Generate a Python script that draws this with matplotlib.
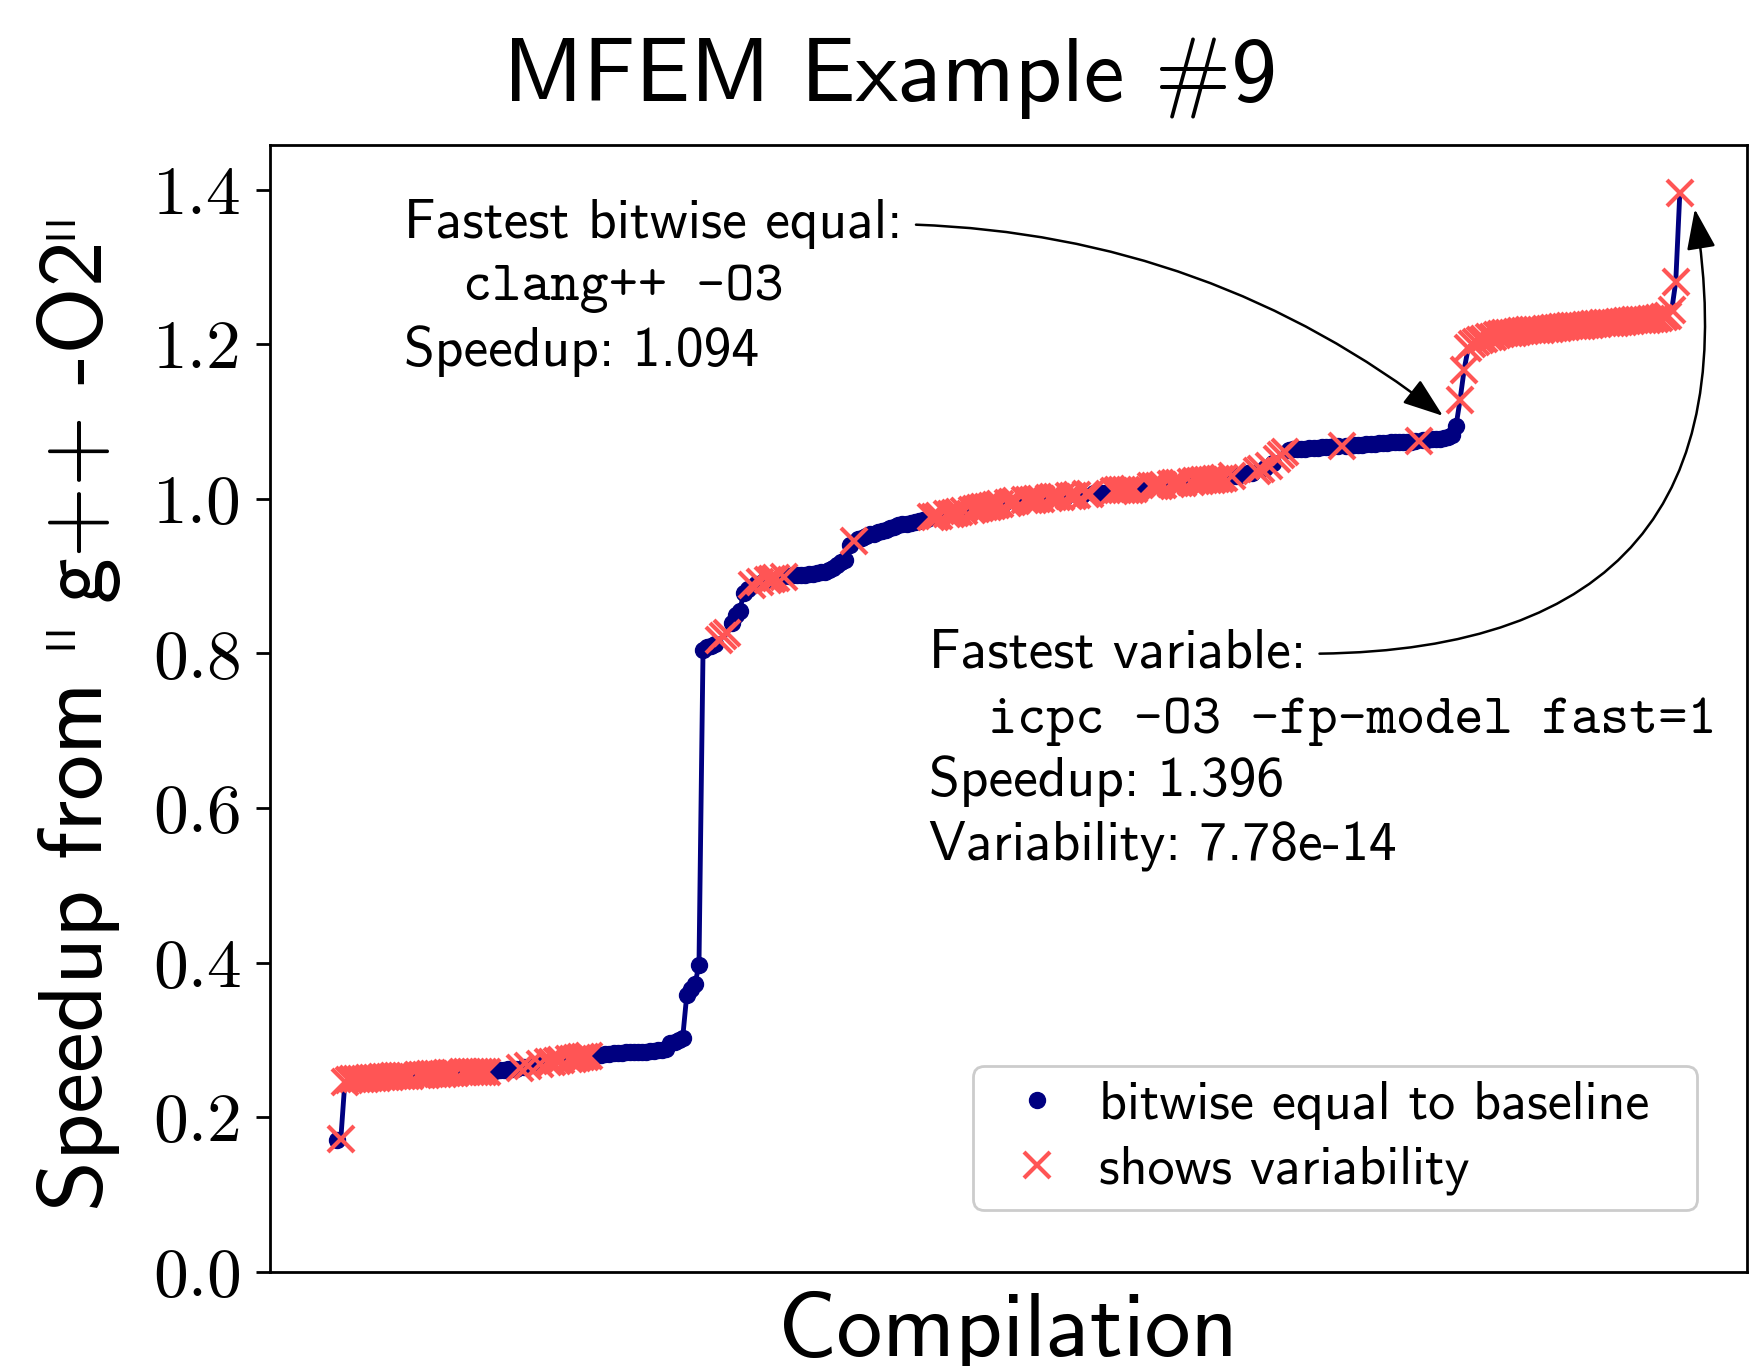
import numpy as np
import matplotlib
matplotlib.use("Agg")
import matplotlib.pyplot as plt
from matplotlib.textpath import TextPath
from matplotlib.font_manager import FontProperties
from matplotlib.transforms import IdentityTransform

plt.rcParams["font.family"] = "cmss10"
plt.rcParams["axes.unicode_minus"] = False

# Speedup of each compilation, sorted
speedup = [
    0.170, 0.172, 0.246, 0.248, 0.249, 0.249, 0.250, 0.250, 0.251, 0.251,
    0.251, 0.252, 0.252, 0.252, 0.253, 0.253, 0.253, 0.254, 0.254, 0.254,
    0.255, 0.255, 0.255, 0.256, 0.256, 0.256, 0.256, 0.257, 0.257, 0.257,
    0.257, 0.258, 0.258, 0.258, 0.258, 0.259, 0.259, 0.259, 0.260, 0.260,
    0.261, 0.261, 0.262, 0.262, 0.263, 0.264, 0.265, 0.266, 0.267, 0.268,
    0.269, 0.270, 0.271, 0.272, 0.273, 0.274, 0.275, 0.275, 0.276, 0.277,
    0.278, 0.278, 0.279, 0.280, 0.281, 0.281, 0.282, 0.282, 0.283, 0.283,
    0.283, 0.284, 0.284, 0.284, 0.285, 0.285, 0.285, 0.286, 0.286, 0.287,
    0.287, 0.288, 0.296, 0.298, 0.300, 0.303, 0.358, 0.366, 0.372, 0.397,
    0.805, 0.808, 0.810, 0.812, 0.818, 0.822, 0.826, 0.840, 0.850, 0.855,
    0.878, 0.884, 0.888, 0.890, 0.893, 0.894, 0.895, 0.896, 0.897, 0.898,
    0.899, 0.900, 0.901, 0.901, 0.902, 0.902, 0.903, 0.903, 0.904, 0.905,
    0.906, 0.908, 0.911, 0.915, 0.918, 0.921, 0.940, 0.946, 0.948, 0.950,
    0.952, 0.954, 0.955, 0.957, 0.958, 0.960, 0.962, 0.964, 0.966, 0.967,
    0.968, 0.969, 0.970, 0.971, 0.972, 0.974, 0.976, 0.977, 0.978, 0.979,
    0.980, 0.981, 0.982, 0.983, 0.984, 0.985, 0.986, 0.987, 0.988, 0.989,
    0.990, 0.991, 0.992, 0.993, 0.994, 0.995, 0.996, 0.997, 0.998, 0.998,
    0.999, 0.999, 1.000, 1.000, 1.001, 1.001, 1.002, 1.002, 1.003, 1.003,
    1.004, 1.004, 1.005, 1.005, 1.006, 1.006, 1.007, 1.007, 1.008, 1.008,
    1.009, 1.010, 1.011, 1.011, 1.012, 1.012, 1.013, 1.014, 1.014, 1.015,
    1.016, 1.017, 1.017, 1.018, 1.018, 1.019, 1.020, 1.020, 1.021, 1.021,
    1.022, 1.023, 1.023, 1.024, 1.024, 1.025, 1.026, 1.026, 1.027, 1.028,
    1.029, 1.030, 1.031, 1.032, 1.033, 1.034, 1.036, 1.038, 1.040, 1.042,
    1.046, 1.052, 1.057, 1.061, 1.063, 1.064, 1.064, 1.065, 1.065, 1.066,
    1.066, 1.066, 1.067, 1.067, 1.067, 1.068, 1.068, 1.068, 1.069, 1.069,
    1.070, 1.070, 1.070, 1.071, 1.071, 1.071, 1.072, 1.072, 1.072, 1.073,
    1.073, 1.073, 1.074, 1.074, 1.074, 1.075, 1.075, 1.076, 1.076, 1.077,
    1.077, 1.078, 1.079, 1.080, 1.082, 1.094, 1.128, 1.167, 1.195, 1.200,
    1.203, 1.205, 1.207, 1.209, 1.210, 1.212, 1.213, 1.214, 1.215, 1.215,
    1.216, 1.217, 1.217, 1.218, 1.218, 1.219, 1.219, 1.220, 1.220, 1.221,
    1.221, 1.222, 1.222, 1.223, 1.223, 1.224, 1.224, 1.225, 1.225, 1.226,
    1.226, 1.227, 1.227, 1.228, 1.228, 1.229, 1.229, 1.230, 1.230, 1.231,
    1.231, 1.232, 1.232, 1.233, 1.233, 1.234, 1.235, 1.237, 1.244, 1.281,
    1.396,
]

# o = bitwise equal to baseline, x = shows variability
flags = (
    "oxxxxxxxxx" "xxxxxxxxxo" "xxxxxxxxxx" "oxxxxxxxoo" "oooooxoxoo"
    "xoxxxxoxxx" "xxxooooooo" "oooooooooo" "oooooooooo" "ooooxxxooo"
    "ooxoxoxxxo" "xooooooooo" "oooooooxoo" "oooooooooo" "ooooooxxxo"
    "xxxxxoxxxx" "xxxxoxxxox" "xxxxoxxxxo" "xxxoxxoooo" "oxxxxxxooo"
    "xxxxoxxxxo" "xxxxxxxxxo" "xoooooxxox" "oxxxoooooo" "oooooooxoo"
    "oooooooooo" "ooooooxooo" "ooooooxxxx" "xxxxxxxxxx" "xxxxxxxxxx"
    "xxxxxxxxxx" "xxxxxxxxxx" "xxxxxxxxxx" "x"
)

best_equal_name = "clang++ -O3"
best_var_name = "icpc -O3 -fp-model fast=1"
best_var_variability = "7.78e-14"

x = np.arange(len(speedup))
y = np.array(speedup)
equal = np.array([f == "o" for f in flags])

i_eq = x[equal][np.argmax(y[equal])]
i_var = x[~equal][np.argmax(y[~equal])]

fig = plt.figure(figsize=(17.54, 13.66), dpi=100)
ax = fig.add_axes([0.1537, 0.0689, 0.8423, 0.8247])

ax.plot(x, y, color="navy", lw=3.5, zorder=1)
ax.plot(x[equal], y[equal], "o", color="navy", ms=11.5,
        label="bitwise equal to baseline", zorder=2)
ax.plot(x[~equal], y[~equal], "x", color="#ff5555", ms=19, mew=3,
        label="shows variability", zorder=3)

ax.set_ylim(bottom=0)
ax.set_xticks([])
ax.tick_params(axis="y", labelsize=50, length=10, width=2, pad=10,
               labelfontfamily="cmr10")
for s in ax.spines.values():
    s.set_linewidth(2)

ax.set_xlabel("Compilation", fontsize=66, labelpad=14)
fig.text(0.5075, 0.926, "MFEM Example #9", fontsize=66, ha="center", va="baseline")

# y label: cmss10 only has curly quotes, so the straight quotes come from
# a light sans face and the pieces are laid out along one rotated baseline
px = fig.dpi / 72
ylab_pt = 66
q_prop = FontProperties(family="Roboto", weight="light")
pieces = [("Speedup from", FontProperties(family="cmss10")), ('"', q_prop),
          ("g++ -O2", FontProperties(family="cmss10")), ('"', q_prop)]
gaps = [50, 20, 17, 0]          # ink gaps after each piece, pixels
base_x = 102                    # baseline position, pixels from left
centre_y = 1366 - 708.5         # centre of the label, pixels from bottom
q_len, q_top = 29, 66           # quote bar length / top above baseline

q_ext = TextPath((0, 0), '"', size=100, prop=q_prop).get_extents()
q_pt = (q_len / q_ext.height * 100) / px

layout = []
total = 0
for (s, prop), g in zip(pieces, gaps):
    is_quote = prop is q_prop
    size_pt = q_pt if is_quote else ylab_pt
    ext = TextPath((0, 0), s, size=size_pt * px, prop=prop).get_extents()
    layout.append((s, prop, size_pt, ext, total, is_quote))
    total += ext.width + g
total -= gaps[-1]

y0 = centre_y - total / 2
for s, prop, size_pt, ext, off, is_quote in layout:
    shift = (q_top - ext.y1) if is_quote else 0
    t = fig.text(base_x - shift, y0 + off - ext.x0, s, fontproperties=prop,
                 rotation=90, rotation_mode="anchor", ha="left", va="baseline",
                 transform=IdentityTransform())
    t.set_fontsize(size_pt)

# annotations
fs = 40
arrow = "-|>,head_length=0.5,head_width=0.18"
ax.annotate("Fastest bitwise equal:", xy=(i_eq, y[i_eq]),
            xytext=(0.0908, 0.9175), textcoords="axes fraction",
            fontsize=fs, va="baseline", ha="left",
            arrowprops=dict(arrowstyle=arrow, connectionstyle="arc3,rad=-0.17",
                            color="black", lw=1.8, mutation_scale=50,
                            shrinkA=8, shrinkB=12, relpos=(1, 0.5)))
ax.text(0.131, 0.8629, best_equal_name, family="cmtt10", fontsize=fs,
        transform=ax.transAxes, va="baseline")
ax.text(0.0908, 0.8044, "Speedup: %.3f" % y[i_eq], fontsize=fs,
        transform=ax.transAxes, va="baseline")

ax.annotate("Fastest variable:", xy=(i_var + 3, y[i_var]),
            xytext=(0.446, 0.5363), textcoords="axes fraction",
            fontsize=fs, va="baseline", ha="left",
            arrowprops=dict(arrowstyle=arrow, connectionstyle="arc3,rad=0.6",
                            color="black", lw=1.8, mutation_scale=50,
                            shrinkA=8, shrinkB=12, relpos=(1, 0.5)))
ax.text(0.486, 0.4787, best_var_name, family="cmtt10", fontsize=fs,
        transform=ax.transAxes, va="baseline")
ax.text(0.446, 0.4221, "Speedup: %.3f" % y[i_var], fontsize=fs,
        transform=ax.transAxes, va="baseline")
ax.text(0.446, 0.3664, "Variability: " + best_var_variability, fontsize=fs,
        transform=ax.transAxes, va="baseline")

leg = ax.legend(loc="lower right", bbox_to_anchor=(0.4762, 0.0547, 0.4899, 0.2),
                mode="expand", borderaxespad=0, fontsize=39, handlelength=1.8,
                handletextpad=0.25, borderpad=0.28, labelspacing=0.28,
                framealpha=1)
leg.get_frame().set_linewidth(2)

fig.savefig("out.png", dpi=100)
